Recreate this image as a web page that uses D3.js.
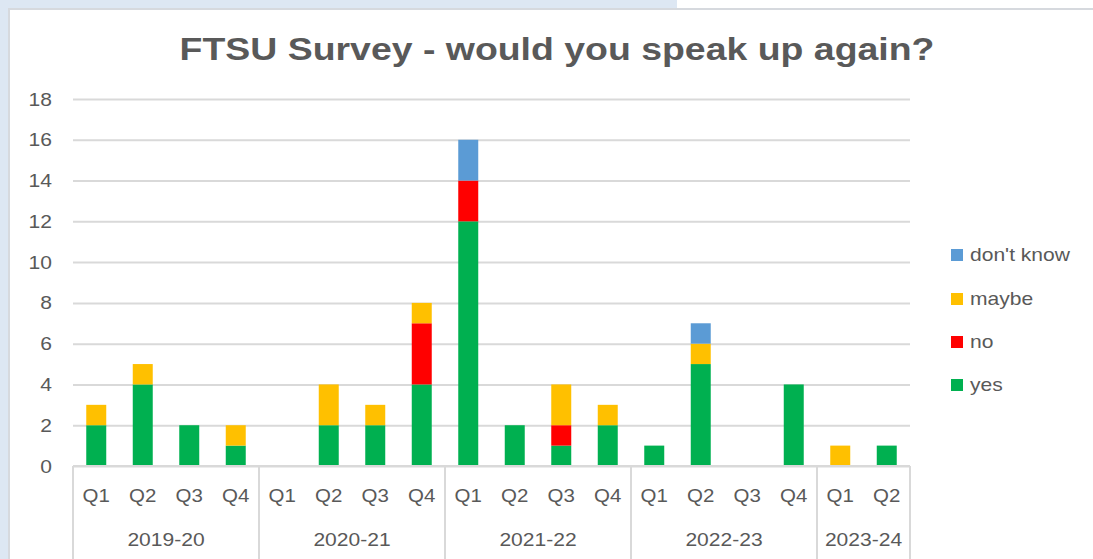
<!DOCTYPE html>
<html>
<head>
<meta charset="utf-8">
<script src="https://cdn.jsdelivr.net/npm/d3@7"></script>
<style>
  html, body { margin: 0; padding: 0; background: #ffffff; }
  svg { display: block; font-family: "Liberation Sans", Arial, sans-serif; }
</style>
</head>
<body>
<svg id="chart" width="1093" height="559"></svg>
<script>
// ---- data ----
const years = ["2019-20", "2020-21", "2021-22", "2022-23", "2023-24"];
const quartersPerYear = [4, 4, 4, 4, 2];
const quarterLabels = ["Q1", "Q2", "Q3", "Q4"];
const seriesNames = ["yes", "no", "maybe", "don't know"];
const yesValues      = [2, 4, 2, 1,  0, 2, 2, 4,  12, 2, 1, 2,  1, 5, 0, 4,  0, 1];
const noValues       = [0, 0, 0, 0,  0, 0, 0, 3,  2, 0, 1, 0,   0, 0, 0, 0,  0, 0];
const maybeValues    = [1, 1, 0, 1,  0, 2, 1, 1,  0, 0, 2, 1,   0, 1, 0, 0,  1, 0];
const dontKnowValues = [0, 0, 0, 0,  0, 0, 0, 0,  2, 0, 0, 0,   0, 1, 0, 0,  0, 0];
const yTicks = [0, 2, 4, 6, 8, 10, 12, 14, 16, 18];
const colors = { "yes": "#00B050", "no": "#FF0000", "maybe": "#FFC000", "don't know": "#5B9BD5" };
const titleText = "FTSU Survey - would you speak up again?";

// build rows
const rows = [];
years.forEach((yr, yi) => {
  for (let q = 0; q < quartersPerYear[yi]; q++) {
    const i = rows.length;
    rows.push({ key: yr + "|" + quarterLabels[q], year: yr, q: quarterLabels[q],
      "yes": yesValues[i], "no": noValues[i], "maybe": maybeValues[i], "don't know": dontKnowValues[i] });
  }
});

const svg = d3.select("#chart");
const W = 1093, H = 559;
const SX = 1.17; // horizontal text stretch seen in the reference
const textCol = "#595959";
const gridCol = "#d9d9d9";

// page background / frame
svg.append("rect").attr("x", 0).attr("y", 0).attr("width", 677).attr("height", 8).attr("fill", "#dde7f3");
svg.append("rect").attr("x", 0).attr("y", 0).attr("width", 8).attr("height", H).attr("fill", "#dde7f3");
svg.append("rect").attr("x", 8).attr("y", 8).attr("width", W - 8).attr("height", 2).attr("fill", "#d6d9de");
svg.append("rect").attr("x", 8).attr("y", 8).attr("width", 2).attr("height", H - 8).attr("fill", "#d6d9de");

const plot = { left: 73, right: 910, top: 99, bottom: 466 };

const x = d3.scaleBand().domain(rows.map(r => r.key)).range([plot.left, plot.right]).paddingInner(0.57).paddingOuter(0.285);
const y = d3.scaleLinear().domain([0, 18]).range([plot.bottom, plot.top]);

function stretchedText(sel, xPos, yPos, txt, anchor) {
  return sel.append("text")
    .attr("transform", `translate(${xPos},${yPos}) scale(${SX},1)`)
    .attr("text-anchor", anchor)
    .text(txt);
}

// gridlines
const yAxis = d3.axisLeft(y).tickValues(yTicks).tickSize(-(plot.right - plot.left)).tickFormat("");
const gy = svg.append("g").attr("transform", `translate(${plot.left},0)`).call(yAxis);
gy.select(".domain").remove();
gy.selectAll(".tick line").attr("stroke", gridCol).attr("stroke-width", 2);

// y tick labels
const yl = svg.append("g").attr("fill", textCol).attr("font-size", 18);
yTicks.forEach(t => stretchedText(yl, 52, y(t) + 6.5, String(t), "end"));

// bars
const stack = d3.stack().keys(seriesNames)(rows);
const bars = svg.append("g");
stack.forEach(layer => {
  bars.selectAll(null).data(layer.filter(d => d[1] > d[0])).join("rect")
    .attr("x", d => x(d.data.key))
    .attr("width", x.bandwidth())
    .attr("y", d => y(d[1]))
    .attr("height", d => y(d[0]) - y(d[1]))
    .attr("fill", colors[layer.key]);
});

// x axis line
svg.append("line").attr("x1", plot.left).attr("x2", plot.right).attr("y1", plot.bottom).attr("y2", plot.bottom)
  .attr("stroke", gridCol).attr("stroke-width", 2);

// category separators
const step = x.step();
const x0 = x(rows[0].key) - x.paddingOuter() * step;
let idx = 0;
const seps = [x0];
years.forEach((yr, yi) => {
  idx += quartersPerYear[yi];
  seps.push(x0 + idx * step);
});
svg.append("g").selectAll("line").data(seps).join("line")
  .attr("x1", d => d).attr("x2", d => d).attr("y1", plot.bottom).attr("y2", H)
  .attr("stroke", gridCol).attr("stroke-width", 2);

// quarter labels
const ql = svg.append("g").attr("fill", textCol).attr("font-size", 17.5);
rows.forEach(r => stretchedText(ql, x(r.key) + x.bandwidth() / 2, 502, r.q, "middle"));

// year labels
const ylab = svg.append("g").attr("fill", textCol).attr("font-size", 18);
idx = 0;
years.forEach((yr, yi) => {
  const a = x0 + idx * step;
  idx += quartersPerYear[yi];
  const b = x0 + idx * step;
  stretchedText(ylab, (a + b) / 2, 546, yr, "middle");
});

// title
svg.append("text")
  .attr("transform", `translate(557,60) scale(${SX},1)`)
  .attr("text-anchor", "middle")
  .attr("font-size", 32).attr("font-weight", "bold").attr("fill", textCol)
  .text(titleText);

// legend
const legendOrder = ["don't know", "maybe", "no", "yes"];
const legY = [255, 299, 342, 385];
const lg = svg.append("g").attr("font-size", 18).attr("fill", textCol);
legendOrder.forEach((k, i) => {
  lg.append("rect").attr("x", 951).attr("y", legY[i] - 6).attr("width", 12).attr("height", 12).attr("fill", colors[k]);
  stretchedText(lg, 970, legY[i] + 6, k, "start");
});
</script>
</body>
</html>
